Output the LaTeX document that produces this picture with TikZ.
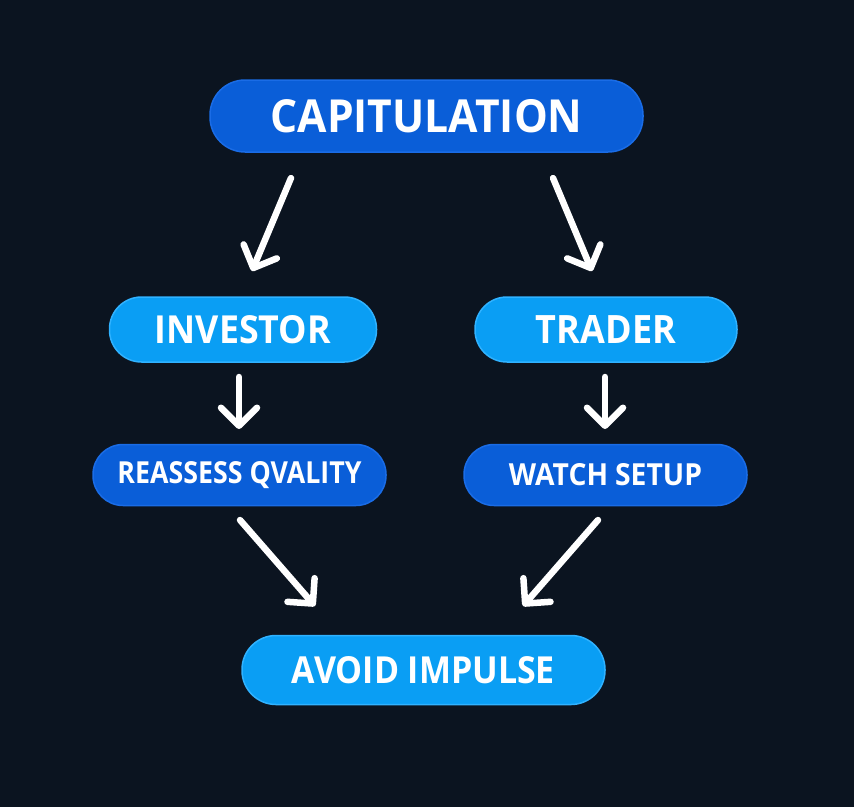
\documentclass[tikz,border=0pt]{standalone}
\usepackage{fontspec}
\setmainfont{Open Sans}
\usetikzlibrary{arrows.meta}
\definecolor{bgc}{HTML}{0B1420}
\definecolor{darkblue}{HTML}{0A5ED8}
\definecolor{darkedge}{HTML}{1A6CE6}
\definecolor{lightblue}{HTML}{0A9EF4}
\definecolor{lightedge}{HTML}{30B2FF}
\tikzset{
  darkbox/.style={fill=darkblue, draw=darkedge, line width=1.5pt, inner sep=0pt, text=white, font=\bfseries},
  lightbox/.style={fill=lightblue, draw=lightedge, line width=1.5pt, inner sep=0pt, text=white, font=\bfseries},
  flowarrow/.style={draw=white, line width=6.5pt, line cap=round, -{Straight Barb[round, length=18pt, width=36pt]}}
}
\newcommand{\fitlabel}[3]{\resizebox{#1}{#2}{#3}}
\begin{document}
\begin{tikzpicture}[x=1pt,y=-1pt]
\fill[bgc] (0,0) rectangle (854,807);
\useasboundingbox (0,0) rectangle (854,807);

\node[darkbox, minimum width=433pt, minimum height=72pt, rounded corners=35pt] (cap) at (426.5,116) {\fitlabel{312pt}{33pt}{CAPITULATION}};
\node[lightbox, minimum width=267pt, minimum height=65pt, rounded corners=32pt] (inv) at (243,329.5) {\fitlabel{176pt}{28pt}{INVESTOR}};
\node[lightbox, minimum width=262pt, minimum height=65pt, rounded corners=32pt] (trd) at (606,329.5) {\fitlabel{140pt}{28pt}{TRADER}};
\node[darkbox, minimum width=293pt, minimum height=61pt, rounded corners=30pt] (rea) at (239.5,475) {\fitlabel{244pt}{22pt}{REASSESS QVALITY}};
\node[darkbox, minimum width=283pt, minimum height=61pt, rounded corners=30pt] (wat) at (605.5,475) {\fitlabel{193pt}{22pt}{WATCH\hspace{0.25em}SETUP}};
\node[lightbox, minimum width=363pt, minimum height=69pt, rounded corners=34pt] (avo) at (423.5,670) {\fitlabel{263pt}{27pt}{AVOID IMPULSE}};

\coordinate (a1s) at (291,178);
\coordinate (a1e) at (252,271);
\coordinate (a2s) at (553,178);
\coordinate (a2e) at (592,271);
\coordinate (a3s) at (239,377);
\coordinate (a3e) at (239,429);
\coordinate (a4s) at (605,377);
\coordinate (a4e) at (605,429);
\coordinate (a5s) at (240,520);
\coordinate (a5e) at (315,606);
\coordinate (a6s) at (598,520);
\coordinate (a6e) at (523,606);

\draw[flowarrow] (a1s) -- (a1e);
\draw[flowarrow] (a2s) -- (a2e);
\draw[flowarrow] (a3s) -- (a3e);
\draw[flowarrow] (a4s) -- (a4e);
\draw[flowarrow] (a5s) -- (a5e);
\draw[flowarrow] (a6s) -- (a6e);
\end{tikzpicture}
\end{document}
